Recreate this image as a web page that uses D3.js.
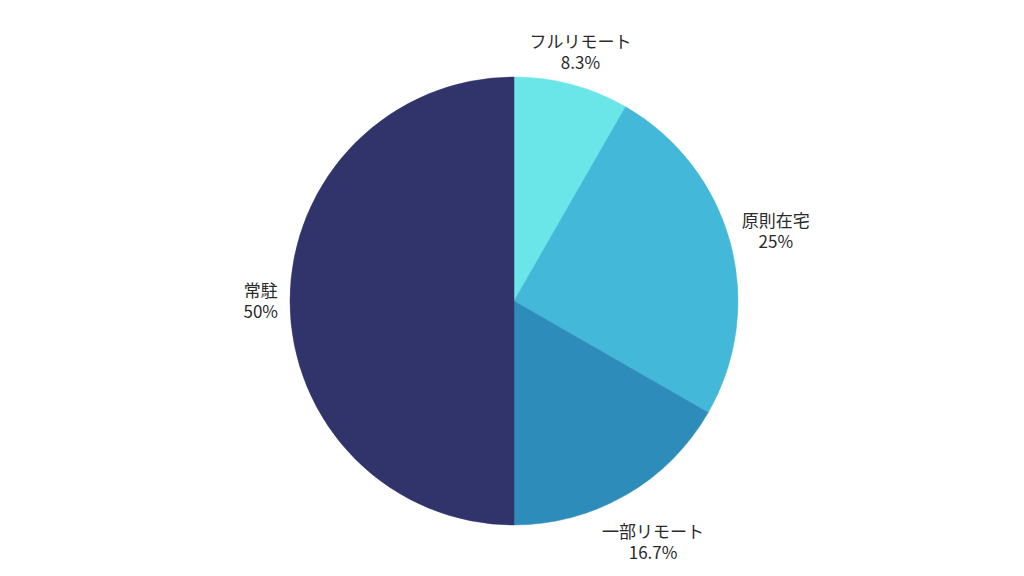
<!DOCTYPE html>
<html>
<head>
<meta charset="utf-8">
<script src="https://cdn.jsdelivr.net/npm/d3@7"></script>
<style>
  html, body { margin: 0; padding: 0; background: #fff; }
  svg { display: block; }
  .pie-label { font-family: "Noto Sans CJK JP", "Noto Sans", sans-serif; font-size: 17px; fill: #2a2a2a; }
</style>
</head>
<body>
<svg id="chart" width="1024" height="576"></svg>
<script>
// Work style breakdown, clockwise from 12 o'clock
const categories = ['フルリモート', '原則在宅', '一部リモート', '常駐'];
const shares = [8.3, 25, 16.7, 50];
const shareLabels = ['8.3%', '25%', '16.7%', '50%'];
const colors = ['#6ae6e9', '#43b8d8', '#2e8cbb', '#30346a'];

const width = 1024, height = 576;
const cx = 514, cy = 301, radius = 224;
const labelGap = 12;
const lineStep = 21;

const svg = d3.select('#chart');
const g = svg.append('g').attr('transform', `translate(${cx},${cy})`);

const pie = d3.pie().sort(null).value(d => d.value);
const arcs = pie(categories.map((c, i) => ({ name: c, value: shares[i], label: shareLabels[i], color: colors[i] })));
const arc = d3.arc().innerRadius(0).outerRadius(radius);

g.selectAll('path.slice')
  .data(arcs)
  .join('path')
  .attr('class', 'slice')
  .attr('d', arc)
  .attr('fill', d => d.data.color)
  .attr('stroke', d => d.data.color)
  .attr('stroke-width', 0.5);

// Labels: two centred lines in one text, pushed out until the block clears the rim
const labels = g.selectAll('text.pie-label')
  .data(arcs)
  .join('text')
  .attr('class', 'pie-label')
  .attr('text-anchor', 'middle');

labels.append('tspan')
  .attr('x', 0).attr('y', -lineStep / 2).attr('dy', '0.35em')
  .text(d => d.data.name);
labels.append('tspan')
  .attr('x', 0).attr('y', lineStep / 2).attr('dy', '0.35em')
  .text(d => d.data.label);

labels.each(function(d) {
  const bb = this.getBBox();
  const mid = (d.startAngle + d.endAngle) / 2;
  const sx = Math.sin(mid), sy = -Math.cos(mid);
  const hw = bb.width / 2, hh = lineStep;
  const ext = Math.min(
    Math.abs(sx) > 1e-6 ? hw / Math.abs(sx) : Infinity,
    Math.abs(sy) > 1e-6 ? hh / Math.abs(sy) : Infinity
  );
  // labels under the pie sit a little further out
  const r = radius + labelGap + ext + 20 * Math.max(0, sy);
  d3.select(this).attr('transform', `translate(${sx * r},${sy * r + 1})`);
});
</script>
</body>
</html>
